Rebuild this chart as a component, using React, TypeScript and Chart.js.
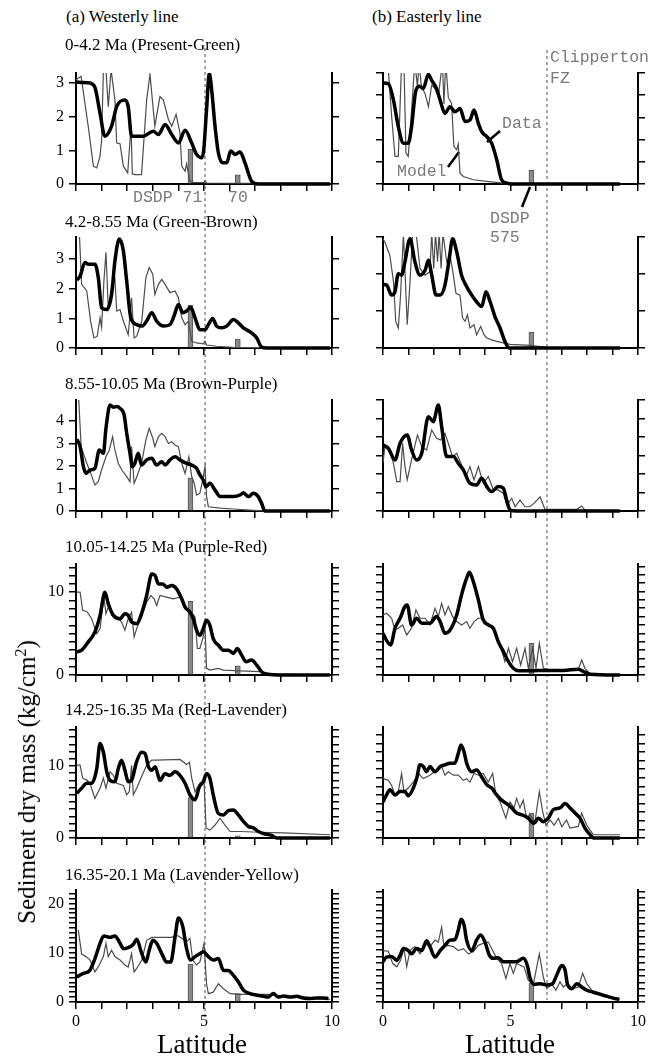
import React, { useEffect, useRef } from "react";
import { Chart, registerables } from "chart.js";

Chart.register(...registerables);
Chart.defaults.font.family = "'Liberation Serif', 'Times New Roman', serif";

type Pt = [number, number];

// ---------------- (a) Westerly line : [latitude, value] ----------------
const wData1: Pt[] = [[0,3.03],[0.55,3.0],[0.74,2.87],[0.94,2.1],[1.13,1.42],[1.39,1.72],[1.59,2.3],[1.91,2.5],[2.04,2.3],[2.17,1.42],[2.63,1.42],[3.02,1.57],[3.22,1.47],[3.48,1.77],[3.74,1.47],[4.0,1.22],[4.26,1.6],[4.52,1.22],[4.71,0.88],[4.91,0.78],[4.99,1.02],[5.1,2.22],[5.21,3.31],[5.31,2.72],[5.43,1.72],[5.56,0.93],[5.73,0.63],[5.89,0.63],[6.04,0.98],[6.21,0.88],[6.41,0.95],[6.6,0.63],[6.86,0.08],[7.12,0],[9.92,0]];
const wModel1: Pt[] = [[0,3.1],[0.2,3.2],[0.48,1.7],[0.68,0.53],[0.81,0.48],[0.94,0.83],[1.0,1.3],[1.07,3.4],[1.17,3.4],[1.26,2.3],[1.37,3.4],[1.52,2.5],[1.59,1.22],[1.72,1.2],[1.85,0.53],[2.02,0.33],[2.15,1.72],[2.2,0.3],[2.3,0.28],[2.56,0.28],[2.76,2.5],[2.89,3.26],[3.02,2.2],[3.08,1.72],[3.28,2.6],[3.41,2.5],[3.61,1.92],[3.74,1.72],[3.91,2.07],[4.06,1.52],[4.13,0.53],[4.26,0.38],[4.32,0.6],[4.45,0.08],[4.58,0.05],[5.0,0.04],[5.05,0.1],[5.1,0.03],[9.92,0.02]];
const wSites1: Pt[] = [[4.47,1.03],[6.32,0.27]];

const wData2: Pt[] = [[0.03,2.29],[0.16,2.43],[0.35,2.89],[0.48,2.83],[0.61,2.83],[0.74,2.83],[0.87,2.38],[1.0,1.36],[1.2,1.3],[1.39,1.81],[1.52,2.94],[1.69,3.68],[1.85,3.28],[1.98,2.26],[2.14,1.02],[2.37,0.79],[2.57,0.74],[2.76,0.91],[2.96,1.19],[3.15,0.91],[3.41,0.74],[3.67,0.79],[3.83,1.08],[4.0,1.47],[4.17,1.19],[4.32,1.25],[4.48,1.38],[4.65,1.02],[4.84,0.62],[5.04,0.62],[5.17,0.79],[5.34,1.0],[5.49,0.74],[5.69,0.68],[5.89,0.74],[6.15,0.96],[6.34,0.85],[6.54,0.68],[6.86,0.51],[7.06,0.34],[7.25,0.03],[7.45,0],[9.92,0]];
const wModel2: Pt[] = [[0.03,3.9],[0.13,3.9],[0.22,2.15],[0.42,1.93],[0.57,0.91],[0.7,0.34],[0.83,0.4],[0.94,1.02],[1.0,0.7],[1.09,2.26],[1.17,3.23],[1.26,1.36],[1.39,2.04],[1.52,2.32],[1.59,1.25],[1.72,1.3],[1.85,0.91],[2.04,0.45],[2.17,1.7],[2.27,0.34],[2.37,0.4],[2.57,0.91],[2.73,2.38],[2.86,2.72],[3.0,2.49],[3.08,1.81],[3.22,2.15],[3.35,2.32],[3.48,2.15],[3.67,1.87],[3.87,1.93],[4.0,1.7],[4.13,1.02],[4.26,0.79],[4.39,0.9],[4.52,0.23],[4.71,0.17],[4.97,0.14],[5.04,0.23],[5.1,0.1],[5.49,0.06],[6.15,0.02],[9.92,0]];
const wSites2: Pt[] = [[4.47,1.45],[6.32,0.3]];

const wData3: Pt[] = [[0.03,3.19],[0.16,2.86],[0.29,1.97],[0.39,1.67],[0.55,1.82],[0.74,1.9],[0.91,2.71],[1.07,2.56],[1.17,3.67],[1.33,4.71],[1.46,4.61],[1.59,4.64],[1.72,4.56],[1.88,4.27],[1.98,3.45],[2.11,2.56],[2.2,1.97],[2.3,2.12],[2.43,2.56],[2.56,2.04],[2.76,2.27],[2.96,2.34],[3.15,2.04],[3.35,2.19],[3.48,2.04],[3.67,2.27],[3.87,2.41],[4.06,2.27],[4.32,2.12],[4.52,2.04],[4.71,1.9],[4.84,1.6],[4.97,1.38],[5.08,1.08],[5.23,1.23],[5.43,0.93],[5.63,0.64],[5.89,0.64],[6.15,0.64],[6.41,0.71],[6.54,0.81],[6.73,0.64],[6.93,0.79],[7.12,0.64],[7.25,0.34],[7.38,0],[9.92,0]];
const wModel3: Pt[] = [[0.03,5.1],[0.1,5.1],[0.2,2.86],[0.29,2.56],[0.42,2.12],[0.55,1.75],[0.74,1.16],[0.87,1.3],[1.0,1.82],[1.17,2.41],[1.3,2.71],[1.43,3.3],[1.52,2.71],[1.65,2.12],[1.79,1.82],[1.98,1.53],[2.11,1.3],[2.17,2.86],[2.27,1.23],[2.37,1.5],[2.56,2.12],[2.73,3.16],[2.86,3.67],[3.0,3.23],[3.08,2.86],[3.22,3.3],[3.35,3.45],[3.48,3.3],[3.61,3.0],[3.74,3.08],[3.87,2.93],[4.0,2.86],[4.13,2.12],[4.26,1.67],[4.41,2.41],[4.52,1.53],[4.62,1.23],[4.71,0.71],[4.84,0.79],[4.95,1.38],[5.04,1.97],[5.1,0.64],[5.17,0.19],[5.63,0.13],[6.15,0.09],[6.8,0.04],[7.45,0],[9.92,0]];
const wSites3: Pt[] = [[4.47,1.47]];

const wData4: Pt[] = [[0.03,2.8],[0.22,3.0],[0.48,4.0],[0.74,5.2],[0.94,7.2],[1.13,10.0],[1.26,8.6],[1.46,7.2],[1.72,6.8],[1.91,7.4],[2.04,7.2],[2.17,6.4],[2.37,6.2],[2.56,7.4],[2.76,9.6],[2.96,12.2],[3.09,12.0],[3.22,11.0],[3.39,11.0],[3.54,10.6],[3.74,10.8],[3.93,10.4],[4.13,9.2],[4.26,8.2],[4.45,7.6],[4.58,6.8],[4.71,5.4],[4.84,4.8],[4.97,5.6],[5.1,6.6],[5.23,6.0],[5.36,4.4],[5.56,3.6],[5.76,3.0],[5.95,3.0],[6.15,2.6],[6.3,3.2],[6.47,2.4],[6.64,1.6],[6.86,1.8],[7.06,1.2],[7.25,0.4],[7.45,0.12],[8.1,0],[9.92,0]];
const wModel4: Pt[] = [[0.03,10.0],[0.16,10.0],[0.26,7.8],[0.44,7.6],[0.61,6.8],[0.81,5.0],[0.94,5.6],[1.09,9.4],[1.17,7.4],[1.3,8.6],[1.39,7.2],[1.59,7.0],[1.78,6.4],[1.91,5.4],[2.04,6.8],[2.17,7.6],[2.27,4.6],[2.37,5.6],[2.56,7.0],[2.76,8.8],[2.92,9.6],[3.05,9.2],[3.15,8.4],[3.28,9.6],[3.54,9.4],[3.8,9.2],[4.06,9.4],[4.26,8.0],[4.45,7.8],[4.65,7.0],[4.74,3.2],[4.84,3.2],[4.95,4.4],[5.04,5.6],[5.1,0.8],[5.23,0.6],[5.56,0.8],[5.76,0.6],[6.41,0.5],[7.19,0.4],[7.45,0.1],[9.92,0]];
const wSites4: Pt[] = [[4.47,8.9],[6.32,1.1]];

const wData5: Pt[] = [[0.03,6.2],[0.22,6.9],[0.42,7.6],[0.61,7.6],[0.81,9.6],[0.94,13.1],[1.07,11.9],[1.2,9.2],[1.33,8.0],[1.52,7.8],[1.65,9.6],[1.78,10.8],[1.91,9.4],[2.04,7.8],[2.17,8.0],[2.37,10.6],[2.56,11.9],[2.7,11.7],[2.83,9.9],[2.96,9.4],[3.09,9.9],[3.28,8.0],[3.48,8.9],[3.67,8.7],[3.87,9.2],[4.06,8.7],[4.26,7.6],[4.45,6.0],[4.65,5.3],[4.82,7.1],[4.97,7.8],[5.1,8.9],[5.23,8.3],[5.36,6.0],[5.56,3.4],[5.76,3.2],[5.95,3.8],[6.15,3.9],[6.34,3.2],[6.54,2.3],[6.73,1.6],[6.93,1.4],[7.12,0.9],[7.38,0.55],[7.64,0.37],[7.84,0],[9.92,0]];
const wModel5: Pt[] = [[0.03,10.1],[0.16,10.1],[0.26,8.3],[0.44,8.0],[0.57,7.3],[0.74,5.5],[0.94,6.9],[1.07,8.3],[1.17,6.9],[1.33,9.2],[1.46,8.7],[1.59,7.6],[1.85,7.3],[1.98,6.0],[2.08,6.4],[2.17,10.1],[2.24,6.0],[2.37,6.9],[2.56,8.5],[2.76,10.1],[2.96,10.8],[3.15,10.8],[4.06,10.9],[4.32,10.2],[4.43,10.5],[4.52,8.3],[4.65,6.4],[4.84,7.6],[5.0,8.0],[5.08,1.4],[5.23,1.1],[5.43,1.8],[5.63,2.75],[5.82,1.8],[6.02,0.9],[6.41,0.9],[7.19,0.8],[8.1,0.7],[9.92,0.45]];
const wSites5: Pt[] = [[4.47,5.6],[6.32,0.3]];

const wData6: Pt[] = [[0.03,5.1],[0.29,5.8],[0.52,6.3],[0.74,8.8],[0.94,11.9],[1.09,13.4],[1.33,13.1],[1.52,13.4],[1.72,11.9],[1.85,10.8],[2.04,11.0],[2.24,11.7],[2.37,12.7],[2.57,9.8],[2.73,8.1],[2.86,10.5],[3.0,12.5],[3.15,11.9],[3.35,9.8],[3.54,8.1],[3.7,8.1],[3.87,13.2],[4.0,17.0],[4.17,15.3],[4.32,10.8],[4.48,8.5],[4.65,9.2],[4.84,9.8],[4.97,10.2],[5.17,9.2],[5.36,8.5],[5.56,8.8],[5.76,6.4],[5.95,6.4],[6.15,5.4],[6.34,4.1],[6.54,2.4],[6.8,1.7],[7.06,1.4],[7.32,1.15],[7.51,1.0],[7.71,1.7],[7.9,1.0],[8.1,1.2],[8.36,1.0],[8.62,1.15],[8.88,0.8],[9.14,0.7],[9.4,0.8],[9.66,0.8],[9.86,0.7]];
const wModel6: Pt[] = [[0.09,14.6],[0.22,9.7],[0.39,9.2],[0.55,8.5],[0.74,6.1],[0.91,7.5],[1.07,9.2],[1.17,11.9],[1.26,9.2],[1.39,10.5],[1.52,9.2],[1.72,8.5],[1.91,7.5],[2.04,7.1],[2.17,9.8],[2.27,6.1],[2.37,6.8],[2.57,8.5],[2.76,12.5],[2.96,13.1],[3.74,13.1],[3.93,13.6],[4.13,12.9],[4.32,12.2],[4.45,12.9],[4.56,8.5],[4.71,7.5],[4.84,8.1],[5.0,11.9],[5.1,3.7],[5.17,1.7],[5.36,2.0],[5.56,3.7],[5.76,2.7],[6.02,1.7],[6.41,1.55],[7.45,1.55],[8.49,1.0],[9.92,0.55]];
const wSites6: Pt[] = [[4.47,7.7],[6.32,1.7]];

// ---------------- (b) Easterly line ----------------
const eData1: Pt[] = [[0,4.55],[0.21,4.52],[0.41,3.78],[0.6,2.58],[0.8,1.84],[0.99,1.84],[1.12,2.58],[1.29,4.22],[1.45,4.4],[1.58,4.3],[1.78,4.94],[1.91,4.67],[2.1,4.3],[2.24,3.78],[2.43,3.18],[2.63,3.48],[2.82,3.25],[3.02,3.4],[3.22,2.81],[3.41,2.88],[3.57,3.33],[3.74,2.73],[3.87,2.36],[4.07,2.13],[4.26,1.84],[4.46,1.09],[4.65,0.19],[4.85,0.04],[5.05,0],[9.29,0]];
const eModel1: Pt[] = [[0,5.5],[0.2,5.3],[0.34,3.03],[0.47,1.24],[0.6,1.24],[0.73,5.5],[0.82,5.5],[0.9,1.39],[0.99,1.24],[1.12,3.33],[1.25,5.5],[1.35,4.37],[1.42,5.5],[1.5,4.4],[1.65,4.07],[1.78,3.48],[1.91,4.45],[2.04,4.3],[2.17,3.93],[2.33,5.5],[2.39,3.6],[2.46,5.5],[2.56,3.9],[2.69,3.63],[2.78,1.69],[2.89,1.54],[2.95,1.8],[3.02,0.49],[3.15,0.34],[3.54,0.19],[4.07,0.12],[4.72,0.04],[5.24,0],[9.29,0]];
const eSites1: Pt[] = [[5.82,0.63]];

const eData2: Pt[] = [[0,1.72],[0.14,1.7],[0.34,1.43],[0.47,1.52],[0.6,2.01],[0.73,1.97],[0.86,2.33],[1.06,2.95],[1.25,2.33],[1.45,1.97],[1.65,2.1],[1.78,2.37],[1.91,1.97],[2.08,1.43],[2.24,1.43],[2.43,1.7],[2.6,2.42],[2.73,2.95],[2.89,2.6],[3.08,1.97],[3.28,1.66],[3.48,1.43],[3.67,1.25],[3.87,1.12],[4.04,1.52],[4.2,1.25],[4.39,0.85],[4.59,0.54],[4.78,0.18],[4.95,0],[9.29,0]];
const eModel2: Pt[] = [[0,2.95],[0.08,2.85],[0.27,2.5],[0.41,1.79],[0.5,0.72],[0.6,0.54],[0.69,1.43],[0.8,3.1],[0.88,1.79],[0.95,0.63],[1.06,1.79],[1.16,3.1],[1.3,3.1],[1.45,2.15],[1.65,1.97],[1.84,2.06],[1.91,3.1],[1.99,2.15],[2.06,3.1],[2.14,2.33],[2.2,3.1],[2.28,2.15],[2.35,3.1],[2.5,2.33],[2.63,2.5],[2.76,1.97],[2.86,1.48],[3.02,1.43],[3.12,0.81],[3.22,0.72],[3.31,0.9],[3.41,0.54],[3.57,0.63],[3.67,0.36],[3.83,0.58],[3.96,0.36],[4.07,0.27],[4.26,0.22],[4.46,0.18],[4.98,0.1],[5.76,0.07],[6.42,0.02],[9.29,0]];
const eSites2: Pt[] = [[5.82,0.43]];

const eData3: Pt[] = [[0,3.57],[0.21,3.39],[0.47,2.76],[0.67,3.66],[0.95,4.11],[1.12,3.3],[1.32,2.76],[1.52,3.12],[1.78,5.1],[1.97,4.83],[2.17,5.73],[2.3,4.56],[2.5,2.94],[2.76,2.94],[2.95,2.58],[3.15,2.22],[3.41,1.5],[3.67,1.41],[3.87,1.77],[4.07,1.32],[4.26,1.05],[4.52,1.32],[4.72,1.23],[4.85,0.59],[4.98,0.05],[5.24,0],[9.29,0]];
const eModel3: Pt[] = [[0,2.58],[0.08,3.57],[0.27,3.3],[0.41,2.58],[0.54,1.59],[0.67,1.59],[0.77,3.66],[0.86,2.4],[0.95,1.68],[1.12,2.76],[1.35,4.11],[1.52,3.48],[1.71,3.3],[1.91,4.38],[2.1,3.93],[2.26,3.84],[2.43,4.2],[2.56,3.66],[2.73,2.94],[2.89,3.12],[3.08,2.49],[3.28,1.95],[3.41,2.4],[3.57,1.68],[3.74,2.4],[3.93,1.5],[4.13,1.86],[4.33,1.14],[4.52,1.14],[4.72,0.95],[4.85,0.32],[5.05,0.68],[5.18,0.23],[5.37,0.59],[5.57,0.23],[5.76,0.23],[5.92,0.41],[6.16,0.77],[6.35,0.09],[6.81,0.09],[7.6,0.09],[7.79,0.27],[7.92,0.05],[9.29,0]];
const eSites3: Pt[] = [];

const eData4: Pt[] = [[0,5.0],[0.17,4.0],[0.3,3.6],[0.47,5.6],[0.67,6.8],[0.86,8.2],[0.95,8.4],[1.12,6.0],[1.32,6.8],[1.52,6.2],[1.84,6.2],[2.1,7.0],[2.24,6.4],[2.43,5.0],[2.63,5.4],[2.89,7.2],[3.08,9.6],[3.28,11.6],[3.39,12.3],[3.54,11.2],[3.74,9.0],[3.93,6.6],[4.13,6.0],[4.33,5.6],[4.52,4.0],[4.72,2.8],[4.92,1.6],[5.11,0.8],[5.31,0.5],[5.76,0.5],[6.42,0.55],[7.07,0.55],[7.66,0.7],[7.86,0.4],[8.12,0.1],[9.29,0]];
const eModel4: Pt[] = [[0,7.2],[0.14,7.4],[0.34,6.8],[0.47,5.4],[0.6,5.6],[0.77,6.0],[0.93,4.8],[1.12,5.6],[1.29,7.8],[1.45,6.8],[1.65,6.8],[1.84,6.0],[2.04,8.0],[2.17,7.0],[2.3,8.6],[2.43,7.2],[2.56,8.2],[2.73,7.0],[2.89,6.4],[3.08,6.0],[3.28,6.4],[3.41,5.6],[3.57,6.4],[3.74,6.8],[3.93,6.8],[4.13,6.0],[4.33,5.4],[4.52,4.0],[4.65,3.0],[4.78,1.6],[4.92,3.2],[5.08,1.6],[5.24,3.2],[5.4,1.2],[5.57,3.2],[5.7,0.8],[5.87,3.2],[6.0,0.8],[6.13,3.8],[6.29,0.8],[6.55,0.6],[7.07,0.6],[7.66,0.7],[7.79,1.8],[7.92,0.8],[8.12,0.1],[9.29,0]];
const eSites4: Pt[] = [[5.82,3.8]];

const eData5: Pt[] = [[0,4.2],[0.14,5.0],[0.27,5.6],[0.47,5.0],[0.67,5.4],[0.86,5.4],[0.99,4.9],[1.19,5.8],[1.32,6.9],[1.45,8.5],[1.58,8.3],[1.71,7.7],[1.84,8.3],[2.04,7.7],[2.24,8.3],[2.43,8.5],[2.63,8.7],[2.82,8.7],[2.95,9.8],[3.06,10.8],[3.18,10.0],[3.28,8.7],[3.48,7.7],[3.67,7.9],[3.87,7.1],[4.07,6.2],[4.26,5.8],[4.46,5.0],[4.65,4.4],[4.85,4.0],[5.05,3.5],[5.24,2.9],[5.44,2.7],[5.7,2.3],[5.92,1.7],[6.09,2.3],[6.29,1.9],[6.48,2.3],[6.68,3.3],[6.94,3.5],[7.14,4.0],[7.33,3.5],[7.53,2.9],[7.73,2.3],[7.92,1.15],[8.12,0.38],[8.25,0],[9.29,0]];
const eModel5: Pt[] = [[0,6.9],[0.21,6.7],[0.34,6.1],[0.47,5.0],[0.6,5.4],[0.73,7.5],[0.82,5.4],[0.99,5.8],[1.19,6.5],[1.39,7.5],[1.58,6.9],[1.84,7.3],[2.1,7.9],[2.3,8.3],[2.43,7.3],[2.56,7.7],[2.76,7.3],[2.95,7.3],[3.15,6.7],[3.28,6.9],[3.41,6.5],[3.57,7.5],[3.74,7.3],[3.93,7.5],[4.13,6.5],[4.3,7.5],[4.43,5.0],[4.59,4.2],[4.72,3.1],[4.82,2.3],[4.98,4.2],[5.14,3.5],[5.24,4.6],[5.37,3.5],[5.5,4.4],[5.63,2.3],[5.76,2.7],[5.96,1.9],[6.13,5.4],[6.26,3.1],[6.39,1.5],[6.55,2.1],[6.71,1.5],[6.88,2.3],[7.01,1.3],[7.2,2.1],[7.33,1.15],[7.66,1.35],[7.79,2.9],[7.99,1.5],[8.25,0.38],[9.29,0.38]];
const eSites5: Pt[] = [[5.82,2.9]];

const eData6: Pt[] = [[0,6.2],[0.14,6.9],[0.34,7.0],[0.54,6.4],[0.67,7.2],[0.8,8.2],[0.99,7.9],[1.12,7.4],[1.32,8.2],[1.52,7.9],[1.71,9.4],[1.84,8.5],[2.04,6.9],[2.24,7.9],[2.43,8.7],[2.63,9.5],[2.82,9.6],[2.95,11.0],[3.06,12.7],[3.18,11.8],[3.28,9.5],[3.48,7.9],[3.67,9.5],[3.83,10.3],[4.0,9.2],[4.17,7.2],[4.33,6.7],[4.52,6.8],[4.72,6.2],[4.98,6.2],[5.24,6.2],[5.5,6.7],[5.66,5.6],[5.76,3.8],[5.92,2.7],[6.16,2.8],[6.42,2.6],[6.65,2.8],[6.81,4.1],[7.01,5.6],[7.14,4.9],[7.23,2.8],[7.4,2.05],[7.6,2.8],[7.79,2.3],[7.99,1.8],[8.25,1.5],[8.51,1.2],[8.77,0.9],[9.03,0.6],[9.27,0.4]];
const eModel6: Pt[] = [[0,7.9],[0.21,7.8],[0.38,5.9],[0.54,5.4],[0.69,6.4],[0.82,8.2],[0.93,5.4],[1.06,7.9],[1.25,8.5],[1.45,7.4],[1.65,9.0],[1.84,8.5],[2.04,9.5],[2.17,9.2],[2.3,11.5],[2.39,8.5],[2.56,8.7],[2.76,8.5],[2.95,7.9],[3.15,8.2],[3.35,7.4],[3.54,7.7],[3.74,8.7],[3.93,9.0],[4.13,9.2],[4.3,7.9],[4.46,6.7],[4.65,5.9],[4.82,3.6],[4.98,5.9],[5.11,4.4],[5.24,5.9],[5.4,5.6],[5.53,5.4],[5.7,3.3],[5.9,2.8],[6.13,7.4],[6.29,3.8],[6.42,2.05],[6.61,2.8],[6.78,1.8],[6.94,3.1],[7.07,2.3],[7.23,2.8],[7.44,2.05],[7.66,2.3],[7.83,4.4],[7.99,2.8],[8.25,1.5],[8.64,0.8],[9.27,0.4]];
const eSites6: Pt[] = [[5.82,2.9]];

// ---------------- labels / axis settings ----------------
const rowTitles = [
  "0-4.2 Ma (Present-Green)",
  "4.2-8.55 Ma (Green-Brown)",
  "8.55-10.05 Ma (Brown-Purple)",
  "10.05-14.25 Ma (Purple-Red)",
  "14.25-16.35 Ma (Red-Lavender)",
  "16.35-20.1 Ma (Lavender-Yellow)",
];
const westYMax = [3.3, 3.75, 4.93, 13.4, 15.4, 22.7];
const eastYMax = [5, 3, 6, 13.3, 12.9, 17.2];
const yLabelStep = [1, 1, 1, 10, 10, 10];
const xTickLabels = [0, 5, 10];

const westData = [wData1, wData2, wData3, wData4, wData5, wData6];
const westModel = [wModel1, wModel2, wModel3, wModel4, wModel5, wModel6];
const westSites = [wSites1, wSites2, wSites3, wSites4, wSites5, wSites6];
const eastData = [eData1, eData2, eData3, eData4, eData5, eData6];
const eastModel = [eModel1, eModel2, eModel3, eModel4, eModel5, eModel6];
const eastSites = [eSites1, eSites2, eSites3, eSites4, eSites5, eSites6];

// layout (pixels)
const rowTop = [73, 237, 400, 564, 727, 890];
const rowZero = [184, 348, 511, 675, 838, 1002];

const SERIF = "'Liberation Serif', 'Times New Roman', serif";
const MONO = "'Liberation Mono', 'Courier New', monospace";
const PAD_TOP = 18;

type PanelProps = {
  left: number;
  width: number;
  yLeftW: number;
  yRightW: number;
  row: number;
  yMax: number;
  labelStep: number;
  showY: boolean;
  data: Pt[];
  model: Pt[];
  sites: Pt[];
};

function Panel(p: PanelProps) {
  const ref = useRef<HTMLCanvasElement | null>(null);
  const bottom = p.row === 5;
  const xH = bottom ? 32 : 18;
  const top = rowTop[p.row] - PAD_TOP;
  const height = PAD_TOP + (rowZero[p.row] - rowTop[p.row]) + xH;

  useEffect(() => {
    const toXY = (a: Pt[]) => a.map(([x, y]) => ({ x, y }));
    const grid = {
      drawOnChartArea: false,
      drawTicks: true,
      tickLength: 7,
      color: "#000",
      lineWidth: 1.5,
      tickWidth: 1.5,
      offset: false,
    };
    const border = { display: true, color: "#000", width: 2 };
    const tickFont = { family: SERIF, size: 16 };
    const chart = new Chart(ref.current as HTMLCanvasElement, {
      type: "line",
      data: {
        datasets: [
          {
            type: "line",
            data: toXY(p.data),
            borderColor: "#000",
            borderWidth: 3.5,
            pointRadius: 0,
            cubicInterpolationMode: "monotone",
            order: 1,
            clip: { left: 0, top: 0, right: 0, bottom: 3 },
          },
          {
            type: "line",
            data: toXY(p.model),
            borderColor: "#4d4d4d",
            borderWidth: 1.2,
            pointRadius: 0,
            tension: 0,
            order: 2,
            clip: { left: 0, top: 0, right: 0, bottom: 2 },
          },
          {
            type: "bar",
            data: toXY(p.sites),
            backgroundColor: "#8a8a8a",
            borderColor: "#555",
            borderWidth: 1,
            barThickness: 5,
            grouped: false,
            order: 3,
          },
        ],
      } as any,
      options: {
        responsive: false,
        maintainAspectRatio: false,
        animation: false,
        devicePixelRatio: 1,
        events: [],
        font: { family: SERIF },
        layout: { padding: { top: PAD_TOP, left: 0, right: 0, bottom: 0 } },
        plugins: { legend: { display: false }, tooltip: { enabled: false } },
        scales: {
          x: {
            type: "linear",
            min: 0,
            max: 10,
            offset: false,
            grid,
            border,
            ticks: {
              display: bottom,
              stepSize: 1,
              autoSkip: false,
              maxRotation: 0,
              padding: 3,
              color: "#000",
              font: tickFont,
              callback: (v: any) => (xTickLabels.includes(Number(v)) ? String(v) : ""),
            },
            afterFit: (s: any) => {
              s.height = xH;
            },
          },
          y: {
            type: "linear",
            position: "left",
            min: 0,
            max: p.yMax,
            grid,
            border,
            ticks: {
              display: p.showY,
              stepSize: 1,
              autoSkip: false,
              includeBounds: false,
              padding: 5,
              color: "#000",
              font: tickFont,
              callback: (v: any) =>
                Math.abs(Number(v) % p.labelStep) < 1e-9 ? String(v) : "",
            },
            afterFit: (s: any) => {
              s.width = p.yLeftW;
            },
          },
          yR: {
            type: "linear",
            position: "right",
            min: 0,
            max: p.yMax,
            grid,
            border,
            ticks: { display: false, stepSize: 1, autoSkip: false, includeBounds: false },
            afterFit: (s: any) => {
              s.width = p.yRightW;
            },
          },
        },
      } as any,
    });
    return () => chart.destroy();
  }, []);

  return (
    <canvas
      ref={ref}
      width={p.width}
      height={height}
      style={{ position: "absolute", left: p.left, top, width: p.width, height }}
    />
  );
}

function Txt(props: {
  x: number;
  y: number;
  size: number;
  font: string;
  color?: string;
  center?: boolean;
  children: React.ReactNode;
}) {
  return (
    <div
      style={{
        position: "absolute",
        left: props.x,
        top: props.y,
        transform: props.center ? "translate(-50%, -50%)" : "translateY(-50%)",
        fontFamily: props.font,
        fontSize: props.size,
        lineHeight: 1.15,
        color: props.color || "#000",
        whiteSpace: "nowrap",
      }}
    >
      {props.children}
    </div>
  );
}

export default function App() {
  const rows = [0, 1, 2, 3, 4, 5];
  return (
    <div
      style={{
        position: "absolute",
        left: 0,
        top: 0,
        width: 648,
        height: 1061,
        overflow: "hidden",
        background: "#fff",
      }}
    >
      <svg
        width={648}
        height={1061}
        style={{ position: "absolute", left: 0, top: 0 }}
      >
        <line x1={205} y1={48} x2={205} y2={1017} stroke="#a6a6a6" strokeWidth={2} strokeDasharray="3 3" />
        <line x1={547} y1={50} x2={547} y2={1000} stroke="#a6a6a6" strokeWidth={2} strokeDasharray="3 3" />
        <line x1={487} y1={142} x2={500} y2={131} stroke="#000" strokeWidth={2.5} />
        <line x1={448} y1={167} x2={459} y2={152} stroke="#000" strokeWidth={2.5} />
        <line x1={530} y1={187} x2={522} y2={207} stroke="#000" strokeWidth={2.5} />
      </svg>

      {rows.map((r) => (
        <Panel
          key={"w" + r}
          left={30}
          width={315}
          yLeftW={46}
          yRightW={13}
          row={r}
          yMax={westYMax[r]}
          labelStep={yLabelStep[r]}
          showY={true}
          data={westData[r]}
          model={westModel[r]}
          sites={westSites[r]}
        />
      ))}
      {rows.map((r) => (
        <Panel
          key={"e" + r}
          left={355}
          width={295}
          yLeftW={28}
          yRightW={12}
          row={r}
          yMax={eastYMax[r]}
          labelStep={yLabelStep[r]}
          showY={false}
          data={eastData[r]}
          model={eastModel[r]}
          sites={eastSites[r]}
        />
      ))}

      <Txt x={66} y={17} size={17} font={SERIF}>(a) Westerly line</Txt>
      <Txt x={372} y={17} size={17} font={SERIF}>(b) Easterly line</Txt>
      {rows.map((r) => (
        <Txt key={"t" + r} x={65} y={[45, 222, 384, 547, 710, 875][r]} size={17} font={SERIF}>
          {rowTitles[r]}
        </Txt>
      ))}

      <Txt x={550} y={58} size={16.5} font={MONO} color="#7a7a7a">Clipperton</Txt>
      <Txt x={550} y={79} size={16.5} font={MONO} color="#7a7a7a">FZ</Txt>
      <Txt x={502} y={124} size={16.5} font={MONO} color="#7a7a7a">Data</Txt>
      <Txt x={397} y={172} size={16.5} font={MONO} color="#7a7a7a">Model</Txt>
      <Txt x={133} y={198} size={16.5} font={MONO} color="#7a7a7a">DSDP 71</Txt>
      <Txt x={228} y={198} size={16.5} font={MONO} color="#7a7a7a">70</Txt>
      <Txt x={490} y={219} size={16.5} font={MONO} color="#7a7a7a">DSDP</Txt>
      <Txt x={490} y={238} size={16.5} font={MONO} color="#7a7a7a">575</Txt>

      <Txt x={202} y={1045} size={27} font={SERIF} center>Latitude</Txt>
      <Txt x={510} y={1045} size={27} font={SERIF} center>Latitude</Txt>

      <div
        style={{
          position: "absolute",
          left: 27,
          top: 782,
          transform: "translate(-50%, -50%) rotate(-90deg)",
          fontFamily: SERIF,
          fontSize: 25,
          lineHeight: 1.15,
          whiteSpace: "nowrap",
          color: "#000",
        }}
      >
        Sediment dry mass (kg/cm<sup style={{ fontSize: "0.65em" }}>2</sup>)
      </div>
    </div>
  );
}
